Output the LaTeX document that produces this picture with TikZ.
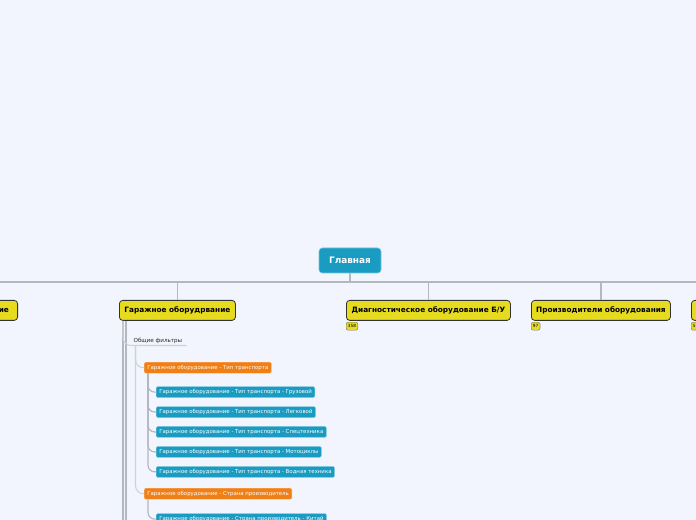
\documentclass[tikz,border=0pt]{standalone}
\usepackage{fontspec}
\setmainfont{DejaVu Sans}
\usepackage{tikz}
\usetikzlibrary{positioning,calc}
\definecolor{bgpage}{HTML}{F2F5FD}
\definecolor{mainblue}{HTML}{1A9CC2}
\definecolor{topyellow}{HTML}{E6DB1E}
\definecolor{filtorange}{HTML}{F07F16}
\definecolor{linegray}{HTML}{B3B7BF}
\definecolor{lightline}{HTML}{CDD1D8}
\tikzset{
  rootbox/.style={draw=mainblue!60!white, fill=mainblue, rounded corners=2.5pt, text=white, font=\fontsize{6.7}{8}\selectfont\bfseries, minimum width=46.5pt, minimum height=18.75pt, inner sep=0pt},
  topbox/.style={draw=black!80, line width=0.6pt, fill=topyellow, rounded corners=2.5pt, font=\fontsize{5.5}{6.5}\selectfont\bfseries, minimum height=15pt, inner sep=0pt, anchor=north west},
  countbox/.style={draw=black!55, line width=0.3pt, fill=topyellow, rounded corners=1.5pt, font=\fontsize{3.2}{3.6}\selectfont, minimum height=6pt, inner xsep=1.3pt, inner ysep=0pt, anchor=north west},
  filterbox/.style={fill=filtorange, draw=filtorange!50!white, line width=0.3pt, rounded corners=1pt, text=white, font=\fontsize{4.05}{5}\selectfont, minimum height=8.25pt, inner xsep=2.3pt, inner ysep=0pt, anchor=north west},
  itembox/.style={filterbox, fill=mainblue, draw=mainblue!50!white},
  bus/.style={draw=linegray, line width=1.4pt},
  branch/.style={draw=linegray, line width=0.9pt, rounded corners=5pt},
  thinbranch/.style={draw=lightline, line width=0.8pt, rounded corners=6pt}
}

\begin{document}
\begin{tikzpicture}[x=0.75pt,y=-0.75pt]
  \fill[bgpage] (0,0) rectangle (696,520);
  \useasboundingbox (0,0) rectangle (696,520);
  \clip (0,0) rectangle (696,520);

  % main node and bus
  \node[rootbox] (main) at (350,260.5) {Главная};
  \coordinate (busl) at (0,282);
  \coordinate (busr) at (696,282);
  \draw[bus] (main.south) -- (main.south |- busl);
  \draw[bus] (busl) -- (busr);

  % first level
  \node[topbox, anchor=north east, text width=45pt, align=right, inner xsep=6.5pt] (left) at (18,300) {ие};
  \node[topbox, minimum width=87pt] (garage) at (119,300) {Гаражное оборудрвание};
  \node[topbox, minimum width=123pt] (diag) at (346,300) {Диагностическое оборудование Б/У};
  \node[topbox, minimum width=104.25pt] (makers) at (531,300) {Производители оборудования};
  \node[topbox, minimum width=60pt] (right) at (691,300) {};
  \foreach \n in {left,garage,diag,makers,right}
    \draw[bus, line width=1pt] (\n.north) -- (\n.north |- busl);

  \node[countbox] (diagn) at (346,322) {358};
  \node[countbox] (makersn) at (531,322) {97};
  \node[countbox] (rightn) at (691,322) {5};

  % garage subtree
  \coordinate (g0) at ($(garage.south west)+(4,0)$);
  \coordinate (g1) at ($(garage.south west)+(7,0)$);
  \draw[bus, line width=1pt] (g0) -- (g0 |- 0,520);
  \draw[bus] (g1) -- (g1 |- 0,520);

  \node[anchor=south west, inner sep=1pt, font=\fontsize{4.2}{5}\selectfont, text=black!85] (common) at (132,345.5) {Общие фильтры};
  \draw[thinbranch] (g0) |- ($(common.south east)+(3,0)$);
  \coordinate (c0) at ($(common.south west)+(3.5,0)$);

  \node[filterbox] (t1) at (144,362) {Гаражное оборудование - Тип транспорта};
  \node[filterbox] (t2) at (144,488) {Гаражное оборудование - Страна производитель};
  \draw[thinbranch] (c0) |- (t1.west);
  \draw[thinbranch] (c0) |- (t2.west);

  \node[itembox] (b1) at ($(t1.south west)+(12,13)$) {Гаражное оборудование - Тип транспорта - Грузовой};
  \node[itembox, below=6.4pt of b1.south west, anchor=north west] (b2) {Гаражное оборудование - Тип транспорта - Легковой};
  \node[itembox, below=6.4pt of b2.south west, anchor=north west] (b3) {Гаражное оборудование - Тип транспорта - Спецтехника};
  \node[itembox, below=6.4pt of b3.south west, anchor=north west] (b4) {Гаражное оборудование - Тип транспорта - Мотоциклы};
  \node[itembox, below=6.4pt of b4.south west, anchor=north west] (b5) {Гаражное оборудование - Тип транспорта - Водная техника};
  \coordinate (tv1) at ($(t1.south west)+(4,0)$);
  \foreach \b in {b1,b2,b3,b4,b5}
    \draw[branch] (tv1) |- (\b.west);

  \node[itembox] (k1) at ($(t2.south west)+(12,14)$) {Гаражное оборудование - Страна производитель - Китай};
  \coordinate (tv2) at ($(t2.south west)+(4,0)$);
  \draw[branch] (tv2) |- (k1.west);
\end{tikzpicture}
\end{document}
